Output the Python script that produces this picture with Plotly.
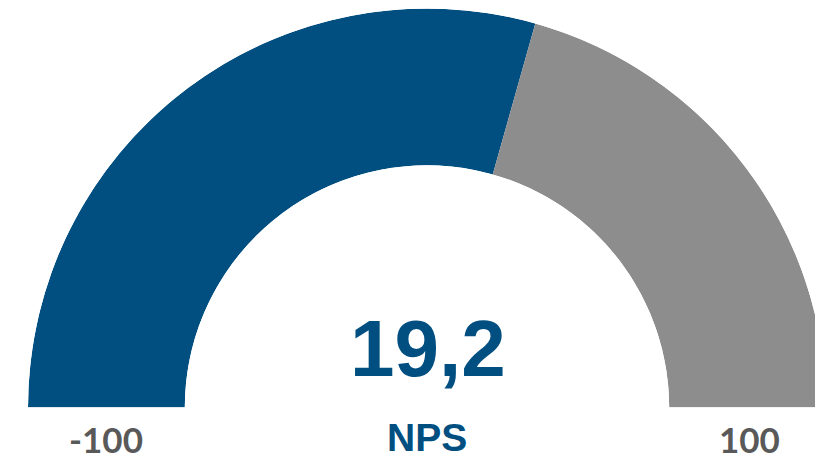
import plotly.graph_objects as go

# gauge data
segment_names = ["NPS", "Rest"]
segment_values = [117.5, 82.5]
segment_colors = ["#004F80", "#8E8D8E"]
nps_value = "19,2"
nps_label = "NPS"
scale_min_label = "-100"
scale_max_label = "100"

# convert the segment values to angles on a half circle
total = sum(segment_values)
widths = [v / total * 180 for v in segment_values]
centers = []
start = 0
for w in widths:
    centers.append(start + w / 2)
    start += w

W, H = 823, 461

fig = go.Figure()
fig.add_trace(go.Barpolar(
    r=[1] * len(segment_values),
    theta=centers,
    width=widths,
    marker=dict(color=segment_colors, line=dict(width=0)),
    hoverinfo="skip",
    showlegend=False,
))

fig.update_layout(
    width=W,
    height=H,
    margin=dict(l=0, r=0, t=0, b=0),
    paper_bgcolor="white",
    polar=dict(
        domain=dict(x=[20 / W, 818 / W], y=[61 / H, 1]),
        sector=[0, 180],
        hole=0.607,
        bgcolor="white",
        bargap=0,
        radialaxis=dict(visible=False, range=[0, 1]),
        angularaxis=dict(visible=False, direction="clockwise", rotation=180,
                         thetaunit="degrees"),
    ),
)


def label(x, y, text, family, size, color):
    fig.add_annotation(x=x / W, y=1 - y / H, xref="paper", yref="paper",
                       text=f"<b>{text}</b>", showarrow=False,
                       font=dict(family=family, size=size, color=color),
                       xanchor="center", yanchor="middle")


label(420, 340, nps_value, "Liberation Sans", 80, "#004F80")
label(419, 429, nps_label, "Liberation Sans", 39, "#004F80")
label(98, 431, scale_min_label, "Lato", 35, "#595959")
label(741, 431, scale_max_label, "Lato", 35, "#595959")

fig.write_html("out.html")
